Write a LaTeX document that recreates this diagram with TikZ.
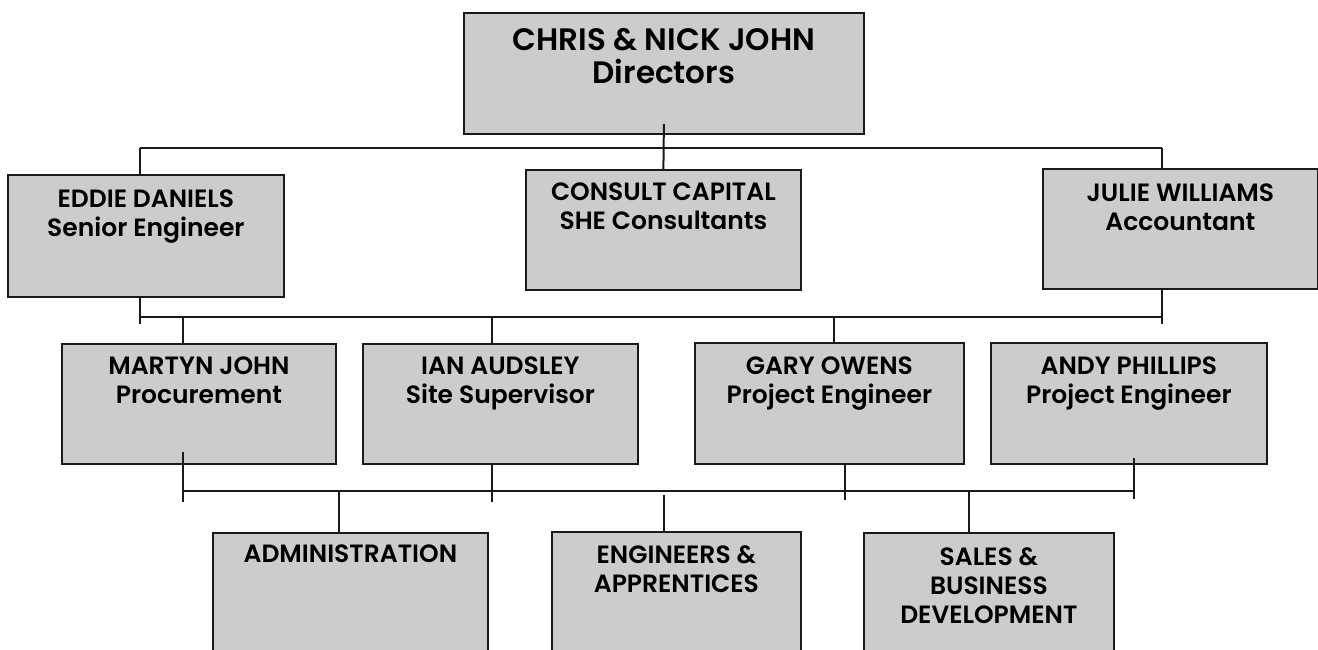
\documentclass[tikz,border=0pt]{standalone}
\usepackage{fontspec}
\setmainfont{Poppins}[BoldFont={Poppins SemiBold}]
\definecolor{boxgray}{HTML}{CCCCCC}
\definecolor{edge}{HTML}{1A1A1A}
\tikzset{
  orgbox/.style={draw=edge, fill=boxgray, line width=1.8pt, inner sep=0pt, anchor=north west},
  txt/.style={font=\bfseries\fontsize{25}{29}\selectfont, align=center, inner sep=0pt, anchor=north, text=black},
  bigtxt/.style={font=\bfseries\fontsize{31}{33}\selectfont, align=center, inner sep=0pt, anchor=north, text=black},
  conn/.style={draw=edge, line width=2pt}
}
\begin{document}
\begin{tikzpicture}[x=1pt,y=-1pt]
\useasboundingbox (0,0) rectangle (1318,649);
\clip (0,0) rectangle (1318,649);

\coordinate (b1l) at (140,148);
\coordinate (b1r) at (1162,148);
\coordinate (b2l) at (140,317);
\coordinate (b2r) at (1162,317);
\coordinate (e2) at (140,324);
\coordinate (j2) at (1162,324);
\coordinate (m2) at (183,317);
\coordinate (i2) at (492,317);
\coordinate (g2) at (834,317);
\coordinate (b3l) at (183,491);
\coordinate (b3r) at (1134,491);
\coordinate (m3a) at (183,452);
\coordinate (m3b) at (183,502);
\coordinate (i3) at (492,502);
\coordinate (g3) at (845,500);
\coordinate (a3a) at (1134,458);
\coordinate (a3b) at (1134,499);
\coordinate (ad) at (339,491);
\coordinate (en) at (664,495);
\coordinate (sa) at (969,491);

% boxes
\node[orgbox, minimum width=400pt, minimum height=121pt] (top) at (463,12) {};
\node[orgbox, minimum width=276pt, minimum height=122pt] (eddie) at (7,174) {};
\node[orgbox, minimum width=275pt, minimum height=120pt] (consult) at (525,169) {};
\node[orgbox, minimum width=275pt, minimum height=120pt] (julie) at (1042,168) {};
\node[orgbox, minimum width=274pt, minimum height=120pt] (martyn) at (61,343) {};
\node[orgbox, minimum width=275pt, minimum height=120pt] (ian) at (362,343) {};
\node[orgbox, minimum width=269pt, minimum height=121pt] (gary) at (694,342) {};
\node[orgbox, minimum width=276pt, minimum height=121pt] (andy) at (990,342) {};
\node[orgbox, minimum width=275pt, minimum height=130pt] (admin) at (212,532) {};
\node[orgbox, minimum width=249pt, minimum height=130pt] (eng) at (551,531) {};
\node[orgbox, minimum width=250pt, minimum height=130pt] (sales) at (863,532) {};

% texts
\node[bigtxt, yshift=-16pt] (ttop) at (top.north) {CHRIS \& NICK JOHN\\Directors};
\node[txt, yshift=-16pt] (teddie) at (eddie.north) {EDDIE DANIELS\\Senior Engineer};
\node[txt, yshift=-14pt] (tconsult) at (consult.north) {CONSULT CAPITAL\\SHE Consultants};
\node[txt, yshift=-16pt] (tjulie) at (julie.north) {JULIE WILLIAMS\\Accountant};
\node[txt, yshift=-14pt] (tmartyn) at (martyn.north) {MARTYN JOHN\\Procurement};
\node[txt, yshift=-14pt] (tian) at (ian.north) {IAN AUDSLEY\\Site Supervisor};
\node[txt, yshift=-15pt] (tgary) at (gary.north) {GARY OWENS\\Project Engineer};
\node[txt, yshift=-15pt] (tandy) at (andy.north) {ANDY PHILLIPS\\Project Engineer};
\node[txt, yshift=-13pt] (tadmin) at (admin.north) {ADMINISTRATION};
\node[txt, yshift=-14pt] (teng) at (eng.north) {ENGINEERS \&\\APPRENTICES};
\node[txt, yshift=-15pt] (tsales) at (sales.north) {SALES \&\\BUSINESS\\DEVELOPMENT};

% connectors
\draw[conn] ([yshift=11pt]top.south) -- (consult.north);
\draw[conn] (b1l) -- (b1r);
\draw[conn] (b1l) -- (b1l |- eddie.north);
\draw[conn] (b1r) -- (b1r |- julie.north);
\draw[conn] (e2 |- eddie.south) -- (e2);
\draw[conn] (j2 |- julie.south) -- (j2);
\draw[conn] (b2l) -- (b2r);
\draw[conn] (m2) -- (m2 |- martyn.north);
\draw[conn] (i2) -- (i2 |- ian.north);
\draw[conn] (g2) -- (g2 |- gary.north);
\draw[conn] (m3a) -- (m3b);
\draw[conn] (i3 |- ian.south) -- (i3);
\draw[conn] (g3 |- gary.south) -- (g3);
\draw[conn] (a3a) -- (a3b);
\draw[conn] (b3l) -- (b3r);
\draw[conn] (ad) -- (ad |- admin.north);
\draw[conn] (en) -- (en |- eng.north);
\draw[conn] (sa) -- (sa |- sales.north);
\end{tikzpicture}
\end{document}
